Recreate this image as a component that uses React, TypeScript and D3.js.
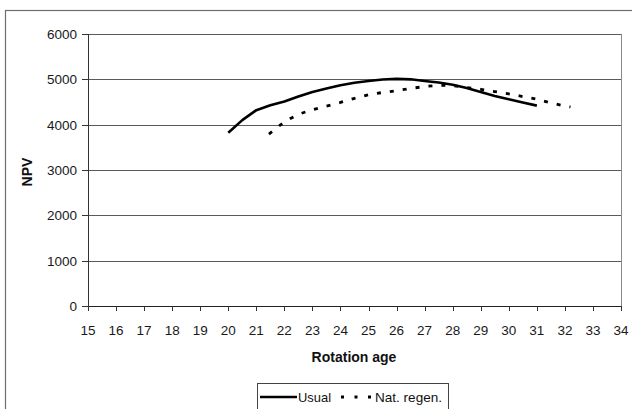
import React from "react";
import * as d3 from "d3";

const usualAge = [20, 20.5, 21, 21.5, 22, 22.5, 23, 23.5, 24, 24.5, 25, 25.5, 26, 26.5, 27, 27.5, 28, 28.5, 29, 29.5, 30, 30.5, 31];
const usualNpv = [3820, 4100, 4320, 4427, 4510, 4620, 4720, 4800, 4870, 4925, 4965, 4995, 5010, 5000, 4965, 4930, 4880, 4810, 4720, 4630, 4560, 4490, 4420];

const natAge = [21.45, 21.85, 22.2, 22.55, 23, 23.5, 24, 24.5, 25, 25.5, 26, 26.5, 27, 27.5, 28, 28.5, 29, 29.5, 30, 30.5, 31, 31.5, 32, 32.2];
const natNpv = [3790, 3990, 4130, 4240, 4330, 4410, 4490, 4580, 4660, 4710, 4750, 4800, 4840, 4870, 4860, 4820, 4780, 4730, 4680, 4620, 4560, 4480, 4410, 4390];

const xTicks = d3.range(15, 35, 1);
const yTicks = [0, 1000, 2000, 3000, 4000, 5000, 6000];
const seriesNames = ["Usual", "Nat. regen."];

const W = 632;
const H = 409;
const FONT = "'Liberation Sans', Arial, Helvetica, sans-serif";

export default function App() {
  const x = d3.scaleLinear().domain([15, 34]).range([88, 621]);
  const y = d3.scaleLinear().domain([0, 6000]).range([306, 34]);

  const usual = usualAge.map((a, i) => [a, usualNpv[i]] as [number, number]);
  const nat = natAge.map((a, i) => [a, natNpv[i]] as [number, number]);
  const line = d3
    .line<[number, number]>()
    .x((d) => x(d[0]))
    .y((d) => y(d[1]));

  const [x0, x1] = x.range();
  const [yb, yt] = y.range();

  return (
    <svg
      width={W}
      height={H}
      style={{ position: "absolute", left: 0, top: 0, background: "#fff" }}
      fontFamily={FONT}
    >
      <rect x={0} y={0} width={W} height={H} fill="#fff" />
      {/* outer chart border */}
      <rect x={5.5} y={10.5} width={W + 20} height={H + 20} fill="none" stroke="#6e6e6e" strokeWidth={1.2} />

      {/* plot border top/right */}
      <line x1={x0} x2={x1} y1={yt + 0.5} y2={yt + 0.5} stroke="#8a8a8a" strokeWidth={1} />
      <line x1={x1 + 0.5} x2={x1 + 0.5} y1={yt} y2={yb} stroke="#8a8a8a" strokeWidth={1} />

      {/* gridlines */}
      {yTicks.map((t) => (
        <line key={"g" + t} x1={x0} x2={x1} y1={Math.round(y(t)) + 0.5} y2={Math.round(y(t)) + 0.5} stroke="#5a5a5a" strokeWidth={1} />
      ))}

      {/* y axis */}
      <line x1={x0 + 0.5} x2={x0 + 0.5} y1={yt} y2={yb + 1} stroke="#333" strokeWidth={1} />
      {yTicks.map((t) => (
        <g key={"yt" + t}>
          <line x1={x0 - 6} x2={x0} y1={Math.round(y(t)) + 0.5} y2={Math.round(y(t)) + 0.5} stroke="#333" />
          <text x={x0 - 11} y={y(t) + 5} textAnchor="end" fontSize={13.5} fill="#1a1a1a">
            {t}
          </text>
        </g>
      ))}

      {/* x axis */}
      <line x1={x0} x2={x1} y1={yb + 0.5} y2={yb + 0.5} stroke="#222" strokeWidth={1.2} />
      {xTicks.map((t) => (
        <g key={"xt" + t}>
          <line x1={Math.round(x(t)) + 0.5} x2={Math.round(x(t)) + 0.5} y1={yb} y2={yb + 5} stroke="#333" />
          <text x={x(t)} y={335} textAnchor="middle" fontSize={13.5} fill="#1a1a1a">
            {t}
          </text>
        </g>
      ))}

      {/* axis titles */}
      <text x={354} y={362} textAnchor="middle" fontSize={14} fontWeight="bold" fill="#111">
        Rotation age
      </text>
      <text
        transform={`translate(32,172) rotate(-90)`}
        textAnchor="middle"
        fontSize={14}
        fontWeight="bold"
        fill="#111"
      >
        NPV
      </text>

      {/* series */}
      <path d={line(usual) || ""} fill="none" stroke="#000" strokeWidth={2.6} strokeLinejoin="round" />
      <path d={line(nat) || ""} fill="none" stroke="#000" strokeWidth={2.8} strokeDasharray="4 9" />

      {/* legend */}
      <rect x={257.5} y={383.5} width={191} height={40} fill="#fff" stroke="#444" strokeWidth={1} />
      <line x1={260} x2={297} y1={397} y2={397} stroke="#000" strokeWidth={2.4} />
      <text x={298} y={402} fontSize={13.5} fill="#111" textLength={33} lengthAdjust="spacingAndGlyphs">
        {seriesNames[0]}
      </text>
      <line x1={341} x2={375} y1={397} y2={397} stroke="#000" strokeWidth={2.8} strokeDasharray="3 10.5" />
      <text x={375} y={402} fontSize={13.5} fill="#111" textLength={67} lengthAdjust="spacingAndGlyphs">
        {seriesNames[1]}
      </text>
    </svg>
  );
}
